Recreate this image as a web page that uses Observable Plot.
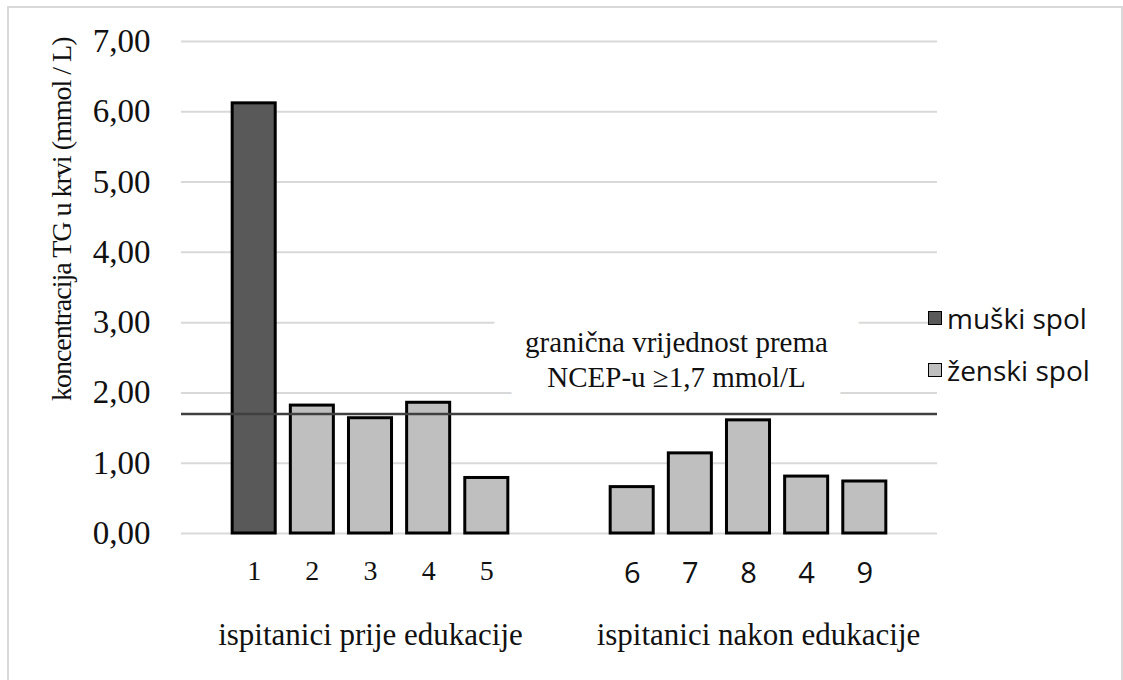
<!DOCTYPE html>
<html>
<head>
<meta charset="utf-8">
<script src="https://cdn.jsdelivr.net/npm/d3@7"></script>
<script src="https://cdn.jsdelivr.net/npm/@observablehq/plot@0.6"></script>
<style>
  html, body { margin: 0; padding: 0; background: #fff; overflow: hidden; }
  #wrap { position: relative; width: 1123px; height: 680px; }
  #wrap svg { position: absolute; left: 0; top: 0; }
  #frame { position: absolute; left: 7px; top: 6px; width: 1116px; height: 720px;
           border: 2px solid #d9d9d9; box-sizing: border-box; pointer-events: none; }
  .legend-item { position: absolute; left: 928px; height: 40px; display: flex; align-items: center;
                 font-family: "Open Sans", sans-serif; font-size: 28px; color: #111; }
  .legend-item .sw { width: 12px; height: 12px; border: 1.5px solid #000; margin-right: 5px; }
</style>
</head>
<body>
<div id="wrap"><div id="frame"></div></div>
<script>
// ---- data ----
const groups = ["ispitanici prije edukacije", "ispitanici nakon edukacije"];
const labelsBefore = ["1", "2", "3", "4", "5"];
const valuesBefore = [6.12, 1.82, 1.64, 1.86, 0.79];
const sexBefore = ["muški spol", "ženski spol", "ženski spol", "ženski spol", "ženski spol"];
const labelsAfter = ["6", "7", "8", "4", "9"];
const valuesAfter = [0.66, 1.14, 1.61, 0.81, 0.74];
const sexAfter = ["ženski spol", "ženski spol", "ženski spol", "ženski spol", "ženski spol"];
const sexes = ["muški spol", "ženski spol"];
const sexColors = ["#595959", "#bfbfbf"];
const yTicks = [0, 1, 2, 3, 4, 5, 6, 7];
const threshold = 1.7;
const annotation = "granična vrijednost prema\nNCEP-u ≥1,7 mmol/L";
const yLabel = "koncentracija TG u krvi (mmol / L)";

// ---- table ----
const rows = [
  ...labelsBefore.map((label, j) => ({group: 0, j, label, value: valuesBefore[j], sex: sexBefore[j]})),
  ...labelsAfter.map((label, j) => ({group: 1, j, label, value: valuesAfter[j], sex: sexAfter[j]}))
];
const GAP = 1.5;
const pos = d => d.group * (labelsBefore.length + GAP) + d.j;
const groupRows = groups.map((name, g) => {
  const rs = rows.filter(r => r.group === g);
  return {name, g, center: (pos(rs[0]) + pos(rs[rs.length - 1])) / 2};
});
const HALF = 0.37;
const fmt = v => d3.format(".2f")(v).replace(".", ",");
const serif = "'Liberation Serif', 'Times New Roman', serif";

const chart = Plot.plot({
  width: 1123,
  height: 680,
  marginLeft: 181,
  marginRight: 186,
  marginTop: 41,
  marginBottom: 147,
  style: {fontFamily: serif, fontSize: "33px", color: "#111", background: "none"},
  x: {domain: [-1.25, 11.75], axis: null},
  y: {domain: [0, 7], ticks: yTicks, tickFormat: fmt, tickSize: 0, tickPadding: 31, label: null},
  color: {domain: sexes, range: sexColors},
  marks: [
    Plot.ruleY(yTicks, {stroke: "#d9d9d9", strokeWidth: 2}),
    Plot.text([annotation], {y: () => threshold, dx: 117, dy: -56, fill: "white", stroke: "white",
      strokeWidth: 74, fontSize: 29, lineHeight: 1.2, lineAnchor: "middle", fontFamily: serif}),
    Plot.rect(rows, {x1: d => pos(d) - HALF, x2: d => pos(d) + HALF, y1: () => 0, y2: "value",
      fill: "sex", stroke: "#000", strokeWidth: 3}),
    Plot.ruleY([threshold], {stroke: "#404040", strokeWidth: 2.5}),
    Plot.text([annotation], {y: () => threshold, dx: 117, dy: -56, fill: "#111",
      fontSize: 29, lineHeight: 1.2, lineAnchor: "middle", fontFamily: serif}),
    Plot.text(rows.filter(r => r.group === 0), {x: pos, y: () => 0, text: "label", dy: 38,
      fontSize: 28, fontFamily: serif, fill: "#111", lineAnchor: "middle"}),
    Plot.text(rows.filter(r => r.group === 1), {x: pos, y: () => 0, text: "label", dy: 40,
      fontSize: 29, fontFamily: "'Open Sans', sans-serif", fill: "#111", lineAnchor: "middle"}),
    Plot.text(groupRows.filter(d => d.g === 0), {x: "center", y: () => 0, text: "name", dy: 102,
      fontSize: 31, fontFamily: serif, fill: "#111", lineAnchor: "middle"}),
    Plot.text(groupRows.filter(d => d.g === 1), {x: "center", y: () => 0, text: "name", dy: 102, dx: 10,
      fontSize: 31, fontFamily: serif, fill: "#111", lineAnchor: "middle"}),
    Plot.text([yLabel], {frameAnchor: "top-left", rotate: -90, textAnchor: "end", lineAnchor: "middle",
      dx: -119, dy: -4, fontSize: 28, fontFamily: serif, fill: "#111"})
  ]
});

// tighten the axis title like the original
d3.select(chart).selectAll("text").filter(function() { return this.textContent === yLabel; })
  .style("letter-spacing", "-1px");

const wrap = document.getElementById("wrap");
wrap.insertBefore(chart, wrap.firstChild);

// legend
const tops = [298, 350];
sexes.forEach((s, i) => {
  const item = document.createElement("div");
  item.className = "legend-item";
  item.style.top = tops[i] + "px";
  const sw = document.createElement("span");
  sw.className = "sw";
  sw.style.background = sexColors[i];
  const t = document.createElement("span");
  t.textContent = s;
  item.appendChild(sw);
  item.appendChild(t);
  wrap.appendChild(item);
});
</script>
</body>
</html>
